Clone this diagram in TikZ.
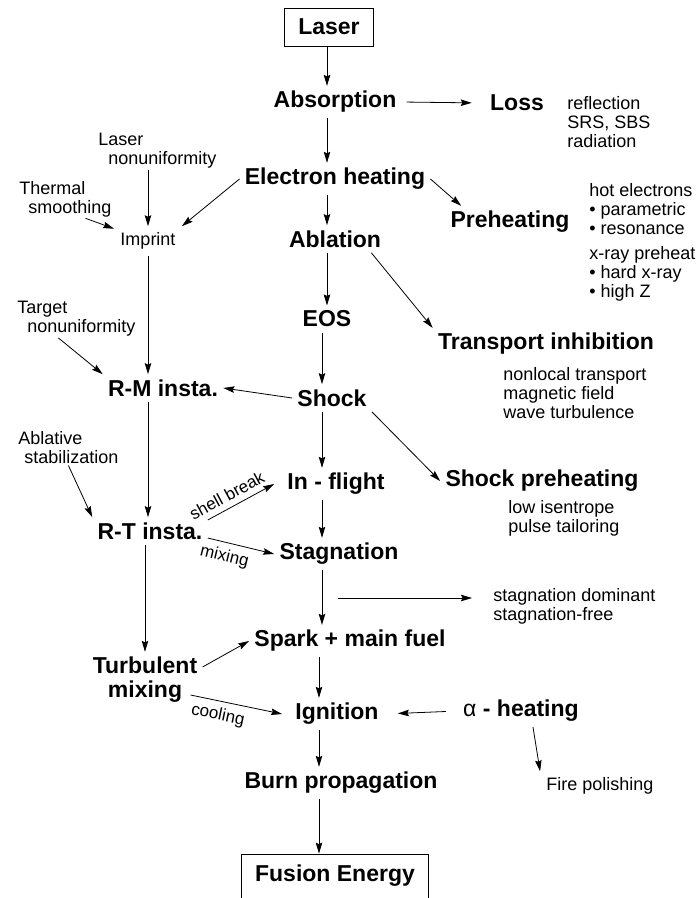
\documentclass[tikz,border=0pt]{standalone}
\usepackage{fontspec}
\setmainfont{Liberation Sans}
\usetikzlibrary{arrows.meta}
\tikzset{>={Stealth[length=11pt,width=6.5pt,inset=1.5pt]}}
\tikzset{big/.style={font=\fontsize{23}{24}\selectfont\bfseries, inner sep=5pt}}
\tikzset{framed/.style={big, draw, line width=0.8pt, inner xsep=14pt, minimum height=38pt}}
\tikzset{note/.style={font=\fontsize{18}{19}\selectfont, align=left, anchor=west, inner sep=1pt}}
\tikzset{small/.style={font=\fontsize{18}{19}\selectfont, inner sep=6pt}}
\tikzset{elab/.style={font=\fontsize{17}{19}\selectfont, inner sep=6pt, sloped}}

\begin{document}
\begin{tikzpicture}[x=1pt, y=-1pt, line width=0.8pt]
\useasboundingbox (0,0) rectangle (698,898);

\coordinate (colA) at (327,0);
\coordinate (colB) at (322,0);
\coordinate (colC) at (319,0);

% central chain
\node[framed] (laser) at (329,27) {Laser};
\node[big] (abs) at (335,102) {Absorption};
\node[big] (eh) at (335,179) {Electron heating};
\node[big] (abl) at (335,239) {Ablation};
\node[big] (eos) at (327,319) {EOS};
\node[big] (shock) at (332,398) {Shock};
\node[big] (inflight) at (336,484) {In - flight};
\node[big] (stag) at (339,554) {Stagnation};
\node[big] (spark) at (350,641) {Spark + main fuel};
\node[big] (ign) at (337,714) {Ignition};
\node[big] (burn) at (341,783) {Burn propagation};
\node[framed, minimum height=44pt] (fusion) at (335,876) {Fusion Energy};

% right side
\node[big] (loss) at (517,103) {Loss};
\node[note] (lossnote) at (566,122) {reflection\\SRS, SBS\\radiation};
\node[big] (pre) at (510,222) {Preheating};
\node[note] (hotel) at (588,209) {hot electrons\\• parametric\\• resonance};
\node[note] (xray) at (588,274) {x-ray preheat\\• hard x-ray\\• high Z};
\node[big] (ti) at (546,344) {Transport inhibition};
\node[note] (tinote) at (502,393) {nonlocal transport\\magnetic field\\wave turbulence};
\node[big] (sp) at (542,481) {Shock preheating};
\node[note] (spnote) at (507,518) {low isentrope\\pulse tailoring};
\node[note] (stagnote) at (492,606) {stagnation dominant\\stagnation-free};
\node[big] (alpha) at (521,711) {\textmd{α} - heating};
\node[small] (fire) at (600,786) {Fire polishing};

% left side
\node[note] (lnu) at (97,151) {Laser\\\hspace*{10pt}nonuniformity};
\node[note] (tsm) at (18,199) {Thermal\\\hspace*{9pt}smoothing};
\node[small] (imprint) at (148,241) {Imprint};
\node[note] (tnu) at (16,319) {Target\\\hspace*{10pt}nonuniformity};
\node[big] (rm) at (163,388) {R-M insta.};
\node[note] (as) at (17,448) {Ablative\\\hspace*{6pt}stabilization};
\node[big] (rt) at (150,531) {R-T insta.};
\node[big, align=center] (tm) at (145,680) {Turbulent\\mixing};

\coordinate (sdstart) at (338,598);

% central arrows
\draw[->] (laser.south -| colA) -- (abs.north -| colA);
\draw[->] (abs.south -| colA) -- (eh.north -| colA);
\draw[->] (eh.south -| colA) -- (abl.north -| colA);
\draw[->] (abl.south -| colA) -- (eos.north -| colA);
\draw[->] (eos.south -| colB) -- (shock.north -| colB);
\draw[->] (shock.south -| colB) -- (inflight.north -| colB);
\draw[->] (inflight.south -| colB) -- (stag.north -| colB);
\draw[->] (stag.south -| colB) -- (spark.north -| colB);
\draw[->] (spark.south -| colC) -- (ign.north -| colC);
\draw[->] (ign.south -| colC) -- (burn.north -| colC);
\draw[->] (burn.south -| colC) -- (fusion.north -| colC);

% branches to the right
\draw[->, shorten <=5pt, shorten >=13pt] (abs.east) -- (loss.west);
\draw[->] (eh.east) -- ([xshift=16pt]pre.north west);
\draw[->] ([xshift=-15pt]abl.south east) -- (ti.north west);
\draw[->] (shock.south east) -- (sp.west);
\draw[->, shorten >=20pt] (sdstart) -- (stagnote.west |- sdstart);
\draw[->, shorten <=12pt, shorten >=14pt] (alpha.west) -- (ign.east);
\draw[->] ([xshift=12pt]alpha.south) -- (fire.north west);

% branches to the left
\draw[->] (lnu.south -| imprint) -- (imprint);
\draw[->] ([xshift=20pt]tsm.south) -- (imprint);
\draw[->] (eh.west) -- (imprint.north east);
\draw[->] (imprint.south) -- (rm.north -| imprint.south);
\draw[->] ([xshift=-18pt]tnu.south) -- (rm.north west);
\draw[->] (shock.west) -- (rm.east);
\draw[->] (rm.south -| imprint.south) -- (rt.north -| imprint.south);
\draw[->] (as.south) -- (rt.north west);
\draw[->] ([yshift=11pt]rt.east) -- node[elab, above, pos=0.38] {shell break} ([xshift=-8pt]inflight.west);
\draw[->] ([yshift=-7pt]rt.east) -- node[elab, below, pos=0.3] {mixing} (stag.west);
\draw[->] (rt.south -| tm.north) -- (tm.north);
\draw[->] ([yshift=13pt]tm.east) -- (spark.west);
\draw[->] ([xshift=-12pt,yshift=-15pt]tm.east) -- node[elab, below, pos=0.33] {cooling} ([xshift=-8pt]ign.west);

\end{tikzpicture}
\end{document}
